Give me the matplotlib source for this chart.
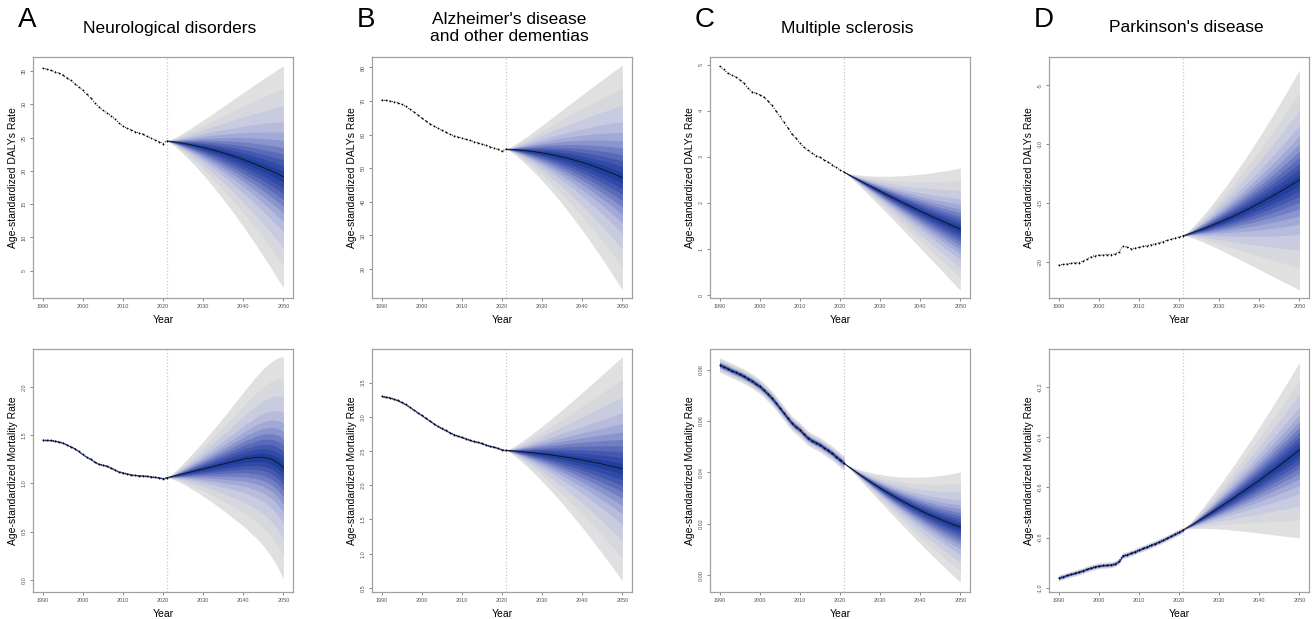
import numpy as np
import matplotlib
matplotlib.use('Agg')
import matplotlib.pyplot as plt
from statistics import NormalDist

plt.rcParams['font.family'] = ['Liberation Sans', 'DejaVu Sans']

hist_years = list(range(1990, 2022))
fc_years = list(range(2021, 2051))

# ---- top row: age-standardized DALYs rate ----
neuro_daly_hist = [35.4, 35.3, 35.1, 34.9, 34.7, 34.4, 34.0, 33.6, 33.1, 32.6, 32.1, 31.5, 30.9, 30.2,
                   29.6, 29.1, 28.7, 28.3, 27.8, 27.2, 26.7, 26.4, 26.2, 25.9, 25.7, 25.5, 25.2, 24.9,
                   24.7, 24.4, 24.1, 24.5]
neuro_daly_fc = [24.50, 24.42, 24.34, 24.24, 24.14, 24.03, 23.91, 23.79, 23.66, 23.52, 23.37, 23.21,
                 23.05, 22.88, 22.70, 22.51, 22.32, 22.12, 21.91, 21.69, 21.47, 21.24, 21.00, 20.75,
                 20.49, 20.23, 19.96, 19.68, 19.40, 19.10]
alz_daly_hist = [70.3, 70.2, 70.0, 69.8, 69.5, 69.0, 68.4, 67.6, 66.8, 65.9, 64.9, 64.1, 63.3, 62.6,
                 61.9, 61.3, 60.7, 60.1, 59.7, 59.3, 59.0, 58.6, 58.3, 57.9, 57.6, 57.2, 56.8, 56.4,
                 56.0, 55.6, 55.1, 55.7]
alz_daly_fc = [55.70, 55.64, 55.57, 55.48, 55.37, 55.24, 55.10, 54.94, 54.76, 54.57, 54.36, 54.14,
               53.89, 53.63, 53.36, 53.07, 52.76, 52.43, 52.08, 51.73, 51.35, 50.96, 50.54, 50.11,
               49.67, 49.21, 48.74, 48.24, 47.73, 47.20]
ms_daly_hist = [4.97, 4.90, 4.82, 4.78, 4.74, 4.68, 4.60, 4.50, 4.42, 4.38, 4.35, 4.30, 4.22, 4.12,
                4.00, 3.88, 3.75, 3.63, 3.50, 3.40, 3.30, 3.21, 3.14, 3.08, 3.03, 2.99, 2.94, 2.89,
                2.83, 2.77, 2.72, 2.67]
ms_daly_fc = [2.670, 2.622, 2.575, 2.528, 2.481, 2.435, 2.389, 2.343, 2.298, 2.253, 2.208, 2.164,
              2.120, 2.077, 2.033, 1.991, 1.948, 1.906, 1.865, 1.823, 1.782, 1.741, 1.701, 1.661,
              1.622, 1.583, 1.544, 1.506, 1.468, 1.430]
pd_daly_hist = [-20.3, -20.25, -20.2, -20.15, -20.1, -20.1, -19.95, -19.8, -19.6, -19.5, -19.45,
                -19.45, -19.4, -19.4, -19.35, -19.2, -18.7, -18.75, -18.9, -18.85, -18.8, -18.7,
                -18.65, -18.55, -18.5, -18.4, -18.3, -18.2, -18.1, -18.0, -17.9, -17.8]
pd_daly_fc = [-17.80, -17.69, -17.57, -17.45, -17.33, -17.21, -17.08, -16.94, -16.80, -16.66,
              -16.52, -16.37, -16.22, -16.06, -15.90, -15.74, -15.57, -15.40, -15.22, -15.04,
              -14.86, -14.67, -14.49, -14.29, -14.09, -13.89, -13.69, -13.48, -13.27, -13.05]

# ---- bottom row: age-standardized mortality rate ----
neuro_mort_hist = [1.448, 1.447, 1.445, 1.44, 1.43, 1.42, 1.40, 1.38, 1.36, 1.33, 1.30, 1.27, 1.25,
                   1.22, 1.20, 1.19, 1.18, 1.16, 1.14, 1.12, 1.11, 1.10, 1.09, 1.085, 1.08, 1.08,
                   1.075, 1.07, 1.065, 1.06, 1.05, 1.06]
neuro_mort_fc = [1.06, 1.07, 1.08, 1.09, 1.10, 1.11, 1.12, 1.13, 1.14, 1.15, 1.16, 1.17, 1.18, 1.19,
                 1.20, 1.21, 1.22, 1.23, 1.24, 1.25, 1.26, 1.26, 1.27, 1.27, 1.27, 1.26, 1.25, 1.23,
                 1.20, 1.16]
alz_mort_hist = [3.30, 3.29, 3.28, 3.26, 3.24, 3.21, 3.18, 3.14, 3.10, 3.06, 3.02, 2.98, 2.94, 2.90,
                 2.86, 2.83, 2.80, 2.77, 2.74, 2.72, 2.70, 2.68, 2.66, 2.64, 2.63, 2.61, 2.59, 2.57,
                 2.56, 2.54, 2.52, 2.51]
alz_mort_fc = [2.510, 2.506, 2.501, 2.496, 2.491, 2.485, 2.479, 2.473, 2.466, 2.459, 2.452, 2.444,
               2.436, 2.427, 2.418, 2.409, 2.399, 2.389, 2.379, 2.368, 2.357, 2.345, 2.333, 2.321,
               2.309, 2.296, 2.282, 2.269, 2.255, 2.240]
ms_mort_hist = [0.0819, 0.0812, 0.0805, 0.0797, 0.0790, 0.0783, 0.0775, 0.0766, 0.0757, 0.0746,
                0.0735, 0.0721, 0.0706, 0.0690, 0.0671, 0.0651, 0.0631, 0.0611, 0.0592, 0.0578,
                0.0566, 0.0549, 0.0534, 0.0524, 0.0516, 0.0508, 0.0497, 0.0486, 0.0475, 0.0462,
                0.0449, 0.0436]
ms_mort_fc = [0.04360, 0.04243, 0.04129, 0.04017, 0.03907, 0.03799, 0.03694, 0.03590, 0.03489,
              0.03391, 0.03293, 0.03200, 0.03107, 0.03017, 0.02930, 0.02844, 0.02761, 0.02679,
              0.02600, 0.02523, 0.02444, 0.02375, 0.02304, 0.02236, 0.02169, 0.02103, 0.02042,
              0.01982, 0.01924, 0.01868]
pd_mort_hist = [-0.961, -0.956, -0.951, -0.946, -0.942, -0.937, -0.932, -0.926, -0.921, -0.916,
                -0.913, -0.911, -0.910, -0.908, -0.905, -0.895, -0.872, -0.868, -0.862, -0.856,
                -0.849, -0.843, -0.837, -0.830, -0.824, -0.817, -0.810, -0.802, -0.794, -0.786,
                -0.778, -0.770]
pd_mort_fc = [-0.770, -0.760, -0.751, -0.741, -0.731, -0.721, -0.711, -0.701, -0.691, -0.680,
              -0.670, -0.659, -0.649, -0.638, -0.627, -0.616, -0.605, -0.594, -0.583, -0.572,
              -0.560, -0.548, -0.537, -0.525, -0.513, -0.501, -0.489, -0.477, -0.464, -0.452]

# outer (99%) half width of the fan in 2050, per panel
daly_w2050 = [16.7, 33.5, 1.33, 9.35]
mort_w2050 = [1.15, 1.64, 0.0215, 0.35]
# half width of the estimate band over 1990-2021
daly_hist_w = [0, 0, 0, 0]
mort_hist_w = [0.012, 0.018, 0.0028, 0.012]

# relative growth of the fan width, 2021..2050
spread = [0, .018, .040, .066, .093, .121, .151, .182, .213, .246, .279, .312, .347, .382, .417,
          .453, .490, .527, .564, .602, .640, .679, .718, .757, .797, .837, .877, .918, .959, 1.0]

band_probs = [0.005, 0.02, 0.05, 0.10, 0.15, 0.20, 0.25, 0.30, 0.35, 0.40, 0.45]
band_colors = ['#e0e0e0', '#d7d8de', '#c9cce0', '#b7bcdc', '#a2a9d6', '#8a94cd', '#717ec3',
               '#5a6ab8', '#4358ae', '#304aa5', '#203e9c']

titles = ['Neurological disorders', "Alzheimer's disease\nand other dementias",
          'Multiple sclerosis', "Parkinson's disease"]
letters = ['A', 'B', 'C', 'D']

zs = [-NormalDist().inv_cdf(p) for p in band_probs]

W, H = 1313, 619
fig = plt.figure(figsize=(W / 100, H / 100), dpi=100)


def px_axes(x0, y0, x1, y1):
    return fig.add_axes([x0 / W, 1 - y1 / H, (x1 - x0) / W, (y1 - y0) / H])


def draw(ax, hist, fc, w2050, hist_w, ylim, yticks, fmt, ylabel):
    hist = np.array(hist)
    fc = np.array(fc)
    sp = np.array(spread)
    for z, c in zip(zs, band_colors):
        half = w2050 * sp * z / zs[0]
        ax.fill_between(fc_years, fc - half, fc + half, color=c, lw=0)
        if hist_w:
            hh = hist_w * z / zs[0]
            ax.fill_between(hist_years, hist - hh, hist + hh, color=c, lw=0)
    ax.axvline(2021, color='#c8c8c8', ls=':', lw=0.9, zorder=1)
    ax.plot(fc_years, fc, color='#111111', lw=0.6, zorder=3)
    ax.plot(hist_years, hist, color='black', ls=':', lw=0.7, marker='o', ms=1.3, mew=0, zorder=3)
    ax.set_xlim(1987.6, 2052.4)
    ax.set_ylim(*ylim)
    ax.set_xticks(range(1990, 2051, 10))
    ax.set_yticks(yticks)
    ax.set_yticklabels([fmt % v for v in yticks])
    ax.tick_params(labelsize=4, colors='#555555', length=2.5, width=0.5, pad=2)
    plt.setp(ax.get_yticklabels(), rotation=90, va='center', ha='right')
    for s in ax.spines.values():
        s.set_color('#a0a0a0')
        s.set_linewidth(0.9)
    ax.set_xlabel('Year', fontsize=7.5, labelpad=4)
    ax.set_ylabel(ylabel, fontsize=7.5, labelpad=3)


col_x = [33, 372, 710, 1049]
daly_hists = [neuro_daly_hist, alz_daly_hist, ms_daly_hist, pd_daly_hist]
daly_fcs = [neuro_daly_fc, alz_daly_fc, ms_daly_fc, pd_daly_fc]
mort_hists = [neuro_mort_hist, alz_mort_hist, ms_mort_hist, pd_mort_hist]
mort_fcs = [neuro_mort_fc, alz_mort_fc, ms_mort_fc, pd_mort_fc]

daly_ylims = [(0.9, 37.1), (11.4, 83.1), (-0.065, 5.17), (-23.1, -2.6)]
daly_ticks = [list(range(5, 36, 5)), list(range(20, 81, 10)), list(range(0, 6)), [-20, -15, -10, -5]]
daly_fmt = ['%d', '%d', '%d', '%d']
mort_ylims = [(-0.124, 2.39), (0.44, 3.99), (-0.0066, 0.0881), (-1.017, -0.049)]
mort_ticks = [[0.0, 0.5, 1.0, 1.5, 2.0], [0.5, 1.0, 1.5, 2.0, 2.5, 3.0, 3.5],
              [0.0, 0.02, 0.04, 0.06, 0.08], [-1.0, -0.8, -0.6, -0.4, -0.2]]
mort_fmt = ['%.1f', '%.1f', '%.2f', '%.1f']

for i in range(4):
    x0 = col_x[i]
    ax1 = px_axes(x0, 57, x0 + 260, 298)
    draw(ax1, daly_hists[i], daly_fcs[i], daly_w2050[i], daly_hist_w[i], daly_ylims[i],
         daly_ticks[i], daly_fmt[i], 'Age-standardized DALYs Rate')
    ax2 = px_axes(x0, 349, x0 + 260, 592)
    draw(ax2, mort_hists[i], mort_fcs[i], mort_w2050[i], mort_hist_w[i], mort_ylims[i],
         mort_ticks[i], mort_fmt[i], 'Age-standardized Mortality Rate')
    fig.text((x0 - 15) / W, 1 - 20 / H, letters[i], fontsize=20, ha='left', va='center')
    fig.text((x0 + 137) / W, 1 - 28 / H, titles[i], fontsize=12.5, ha='center', va='center',
             linespacing=1.2)

fig.savefig('out.png', dpi=100)
